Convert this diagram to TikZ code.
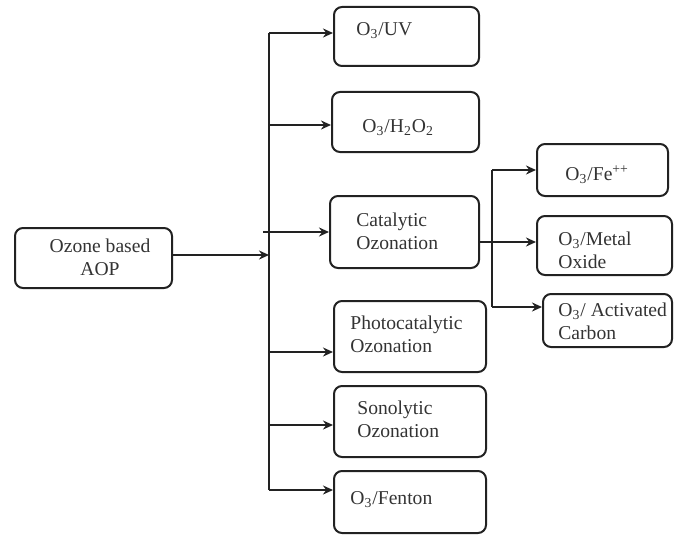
\documentclass[tikz,border=0pt]{standalone}
\usepackage{fontspec}
\setmainfont{Liberation Serif}
\usetikzlibrary{arrows.meta}
\definecolor{ln}{HTML}{222222}
\definecolor{tx}{HTML}{333333}
\tikzset{
  box/.style={draw=ln, line width=1pt, rounded corners=4pt, inner sep=0pt},
  lbl/.style={anchor=west, align=left, inner sep=0pt, text=tx, font=\fontsize{9.8pt}{11.5pt}\selectfont},
  conn/.style={draw=ln, line width=0.85pt},
  arr/.style={conn, -{Stealth[length=5pt,width=4.5pt]}}
}
\begin{document}
\begin{tikzpicture}[x=0.5pt,y=-0.5pt]
\useasboundingbox (0,0) rectangle (674,535);
% boxes
\node[box, minimum width=78.5pt, minimum height=30pt] (A) at (93.5,258) {};
\node[box, minimum width=72.5pt, minimum height=29.5pt] (B1) at (406.5,36.5) {};
\node[box, minimum width=73.5pt, minimum height=30pt] (B2) at (405.5,122) {};
\node[box, minimum width=74.5pt, minimum height=36pt] (B3) at (404.5,232) {};
\node[box, minimum width=76pt, minimum height=35.5pt] (B4) at (410,336.5) {};
\node[box, minimum width=76pt, minimum height=35.5pt] (B5) at (410,421.5) {};
\node[box, minimum width=76pt, minimum height=31pt] (B6) at (410,502) {};
\node[box, minimum width=65.5pt, minimum height=26pt] (C1) at (602.5,170) {};
\node[box, minimum width=67.5pt, minimum height=29.5pt] (C2) at (604.5,245.5) {};
\node[box, minimum width=64.5pt, minimum height=26.5pt] (C3) at (607.5,320.5) {};
% texts
\node[lbl, anchor=center, align=center] (tA) at (100,257) {Ozone based\\AOP};
\node[lbl] (t1) at (356,31) {O\textsubscript{3}/UV};
\node[lbl] (t2) at (362,128) {O\textsubscript{3}/H\textsubscript{2}O\textsubscript{2}};
\node[lbl] (t3) at (356,231) {Catalytic\\Ozonation};
\node[lbl] (t4) at (350,334) {Photocatalytic\\Ozonation};
\node[lbl] (t5) at (357,419) {Sonolytic\\Ozonation};
\node[lbl] (t6) at (350,500) {O\textsubscript{3}/Fenton};
\node[lbl] (u1) at (565,175) {O\textsubscript{3}/Fe\textsuperscript{++}};
\node[lbl] (u2) at (558,250) {O\textsubscript{3}/Metal\\Oxide};
\node[lbl] (u3) at (558,321) {O\textsubscript{3}/ Activated\\Carbon};
% trunk
\coordinate (j1) at (269,33);
\coordinate (j2) at (269,125);
\coordinate (j3) at (263,232);
\coordinate (jA) at (269,255);
\coordinate (j4) at (269,352);
\coordinate (j5) at (269,425);
\coordinate (j6) at (269,490);
\draw[conn] (j1) -- (j6);
\draw[arr] (A.east |- jA) -- (jA);
\draw[arr] (j1) -- (j1 -| B1.west);
\draw[arr] (j2) -- (j2 -| B2.west);
\draw[arr] (j3) -- (j3 -| B3.west);
\draw[arr] (j4) -- (j4 -| B4.west);
\draw[arr] (j5) -- (j5 -| B5.west);
\draw[arr] (j6) -- (j6 -| B6.west);
% catalytic branch
\coordinate (k1) at (492,170);
\coordinate (k2) at (492,242);
\coordinate (k3) at (492,307);
\draw[conn] (k1) -- (k3);
\draw[arr] (B3.east |- k2) -- (k2 -| C2.west);
\draw[arr] (k1) -- (k1 -| C1.west);
\draw[arr] (k3) -- (k3 -| C3.west);
\end{tikzpicture}
\end{document}
